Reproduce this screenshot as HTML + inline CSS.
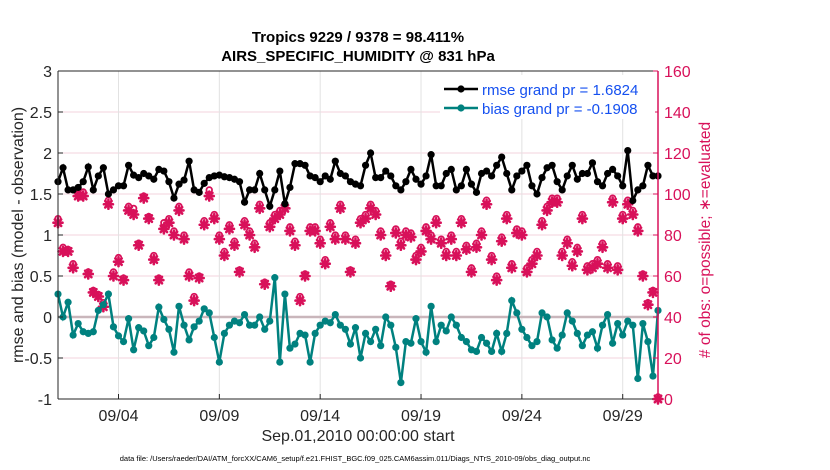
<!DOCTYPE html>
<html><head><meta charset="utf-8"><style>
body{margin:0;background:#fff;}
svg{display:block;font-family:"Liberation Sans",sans-serif;}
</style></head><body>
<svg id="chart" width="830" height="470" viewBox="0 0 830 470" xmlns="http://www.w3.org/2000/svg" style="position:absolute;left:0;top:0">
<rect width="830" height="470" fill="#fff"/>
<g id="grid"></g><g id="marks"></g><g id="axes"></g>
</svg>
<script>
const xTickLabels=["09/04","09/09","09/14","09/19","09/24","09/29"];
const xTickDays=[3,8,13,18,23,28];
const leftTicks=[-1,-0.5,0,0.5,1,1.5,2,2.5,3];
const rightTicks=[0,20,40,60,80,100,120,140,160];
const rmse=[1.65,1.82,1.55,1.55,1.58,1.65,1.83,1.55,1.72,1.82,
1.5,1.55,1.6,1.6,1.85,1.73,1.7,1.75,1.72,1.68,
1.8,1.78,1.65,1.45,1.62,1.67,1.9,1.55,1.52,1.63,
1.7,1.72,1.73,1.71,1.7,1.68,1.65,1.4,1.55,1.55,
1.75,1.55,1.35,1.55,1.78,1.38,1.58,1.87,1.87,1.85,
1.72,1.7,1.65,1.72,1.68,1.9,1.75,1.72,1.65,1.62,
1.6,1.85,2.0,1.7,1.7,1.78,1.72,1.6,1.55,1.65,
1.8,1.68,1.62,1.72,1.98,1.6,1.6,1.75,1.8,1.55,
1.6,1.8,1.62,1.52,1.75,1.78,1.72,1.85,1.95,1.75,
1.55,1.72,1.78,1.85,1.6,1.5,1.7,1.82,1.85,1.65,
1.55,1.72,1.85,1.68,1.75,1.75,1.88,1.65,1.6,1.75,
1.8,1.72,1.6,2.03,1.42,1.55,1.6,1.85,1.72,1.72];
const bias=[0.28,0.0,0.18,-0.22,-0.08,-0.18,-0.2,-0.18,0.08,0.15,
0.28,-0.12,-0.23,-0.3,-0.02,-0.4,-0.13,-0.17,-0.35,-0.25,
0.12,-0.03,-0.15,-0.43,0.13,-0.1,-0.28,-0.12,-0.05,0.1,
0.05,-0.25,-0.55,-0.2,-0.1,-0.05,-0.07,0.03,-0.1,-0.1,
0.0,-0.15,-0.05,0.48,-0.55,0.28,-0.38,-0.33,-0.2,-0.22,
-0.55,-0.2,-0.1,-0.05,-0.07,0.03,-0.1,-0.15,-0.33,-0.13,
-0.5,-0.2,-0.3,-0.15,-0.35,0.0,-0.1,-0.37,-0.8,-0.3,
-0.32,-0.02,-0.3,-0.43,0.13,-0.3,-0.1,-0.17,0.0,-0.1,
-0.25,-0.3,-0.4,-0.42,-0.25,-0.32,-0.42,-0.2,-0.42,-0.2,
0.2,0.05,-0.15,-0.25,-0.35,-0.3,0.05,0.0,-0.28,-0.38,
-0.22,0.05,-0.05,-0.2,-0.35,-0.22,-0.18,-0.38,-0.1,0.03,
-0.32,-0.08,-0.22,-0.05,-0.1,-0.75,-0.08,-0.3,-0.72,0.08];
const evaluated=[86,72,72,64,99,99,61,52,50,45,
95,60,67,58,92,90,75,98,88,68,
58,83,86,80,92,78,60,48,59,85,
99,88,78,70,83,75,62,85,80,74,
93,56,84,88,90,93,82,75,48,60,
82,82,76,66,84,78,93,78,62,76,
86,88,93,90,80,70,55,81,75,80,
79,68,72,82,78,86,76,70,78,70,
86,73,62,74,80,95,68,58,77,88,
64,81,80,62,66,70,85,92,96,96,
70,76,65,72,88,63,64,66,74,64,
96,63,88,95,90,82,60,46,52,0];
const possible=[87,73,72,65,99,100,61,52,50,46,
96,61,68,58,93,92,75,98,88,69,
58,85,87,81,93,79,61,49,59,86,
101,89,79,71,84,76,62,86,81,75,
94,56,85,89,91,94,83,76,49,60,
83,83,77,67,85,79,94,79,62,77,
87,89,94,91,81,71,55,82,76,81,
80,69,73,83,79,87,77,71,79,71,
87,74,63,75,81,96,69,59,78,89,
65,82,81,63,67,71,86,93,97,97,
71,77,66,73,89,64,65,67,75,65,
97,64,89,96,91,83,60,46,52,0];
</script>
<script>
const NS="http://www.w3.org/2000/svg";
const L=58,R=658,T=71,B=399;
const tMax=29.75;
function xs(t){return L+(t/tMax)*(R-L);}
function yl(v){return B-(v+1)/4*(B-T);}
function yr(v){return B-v/160*(B-T);}
function tOf(i,len){return i*tMax/(len-1);}
function mk(tag,attrs,parent){const e=document.createElementNS(NS,tag);for(const k in attrs)e.setAttribute(k,attrs[k]);parent.appendChild(e);return e;}
const grid=document.getElementById('grid'),marks=document.getElementById('marks'),axes=document.getElementById('axes');
leftTicks.forEach(v=>{const g=mk('line',{x1:L,x2:R,y1:yl(v),y2:yl(v),stroke:'#f3d3de','stroke-width':1},grid);

});
xTickDays.forEach(d=>{const g=mk('line',{x1:xs(d),x2:xs(d),y1:T,y2:B,stroke:'#e2e2e2','stroke-width':1},grid);

});
const z=mk('line',{x1:L,x2:R,y1:yl(0),y2:yl(0),stroke:'#c9b6bb','stroke-width':2.5},marks);


const ne=evaluated.length;
const OC='#d8115a';
for(let i=0;i<ne;i++){const x=xs(tOf(i,ne));
const y=yr(evaluated[i]);
const g=mk('g',{stroke:OC,'stroke-width':2.6,'stroke-linecap':'round'},marks);


mk('line',{x1:x-4.5,x2:x+4.5,y1:y,y2:y},g);
mk('line',{x1:x,x2:x,y1:y-4.5,y2:y+4.5},g);
mk('line',{x1:x-3.2,x2:x+3.2,y1:y-3.2,y2:y+3.2},g);
mk('line',{x1:x-3.2,x2:x+3.2,y1:y+3.2,y2:y-3.2},g);
const c=mk('circle',{cx:x,cy:yr(possible[i])-2,r:2.8,fill:'none',stroke:OC,'stroke-width':1.8},marks);

}
function series(arr,color,name){
const pts=arr.map((v,i)=>xs(tOf(i,arr.length)).toFixed(1)+','+yl(v).toFixed(1)).join(' ');
const p=mk('polyline',{points:pts,fill:'none',stroke:color,'stroke-width':2.5},marks);


arr.forEach((v,i)=>{const c=mk('circle',{cx:xs(tOf(i,arr.length)),cy:yl(v),r:3.6,fill:color},marks);

});}
series(rmse,'#000','rmse');
series(bias,'#00817f','bias');
mk('line',{x1:L,x2:R,y1:T,y2:T,stroke:'#262626','stroke-width':1},axes);
mk('line',{x1:L,x2:R,y1:B,y2:B,stroke:'#262626','stroke-width':1},axes);
mk('line',{x1:L,x2:L,y1:T,y2:B,stroke:'#262626','stroke-width':1},axes);
mk('line',{x1:R,x2:R,y1:T,y2:B,stroke:OC,'stroke-width':1.5},axes);
leftTicks.forEach(v=>{mk('line',{x1:L,x2:L+5,y1:yl(v),y2:yl(v),stroke:'#262626'},axes);
const t=mk('text',{x:L-6,y:yl(v)+6,'text-anchor':'end','font-size':16,fill:'#262626'},axes);t.textContent=String(v);

});
rightTicks.forEach(v=>{mk('line',{x1:R-5,x2:R,y1:yr(v),y2:yr(v),stroke:OC},axes);
const t=mk('text',{x:R+6,y:yr(v)+6,'font-size':16,fill:OC},axes);t.textContent=String(v);

});
xTickDays.forEach((d,i)=>{mk('line',{x1:xs(d),x2:xs(d),y1:B,y2:B-5,stroke:'#262626'},axes);
const t=mk('text',{x:xs(d),y:B+22,'text-anchor':'middle','font-size':16,fill:'#262626'},axes);t.textContent=xTickLabels[i];

});
</script>
<svg style="position:absolute;left:0;top:0" width="830" height="470">
<text x="358" y="42" text-anchor="middle" font-size="15" font-weight="bold" fill="#000" font-family="Liberation Sans">Tropics 9229 / 9378 = 98.411%</text>
<text x="358" y="61" text-anchor="middle" font-size="15" font-weight="bold" fill="#000" font-family="Liberation Sans">AIRS_SPECIFIC_HUMIDITY @ 831 hPa</text>
<text x="358" y="441" text-anchor="middle" font-size="16" fill="#262626" font-family="Liberation Sans">Sep.01,2010 00:00:00 start</text>
<text transform="translate(23,235) rotate(-90)" text-anchor="middle" font-size="16" fill="#262626" font-family="Liberation Sans">rmse and bias (model - observation)</text>
<text transform="translate(710,240) rotate(-90)" text-anchor="middle" font-size="15.5" fill="#d8115a" font-family="Liberation Sans"># of obs: o=possible; ∗=evaluated</text>
<text x="355" y="461" text-anchor="middle" font-size="7.5" fill="#000" font-family="Liberation Sans">data file: /Users/raeder/DAI/ATM_forcXX/CAM6_setup/f.e21.FHIST_BGC.f09_025.CAM6assim.011/Diags_NTrS_2010-09/obs_diag_output.nc</text>
<g>
<rect x="440" y="75" width="215" height="44" fill="#fff"/>
<line x1="444" y1="89" x2="478" y2="89" stroke="#000" stroke-width="2.5"/><circle cx="461" cy="89" r="3.6" fill="#000"/>
<text x="482" y="95" font-size="15" fill="#1550f0" font-family="Liberation Sans">rmse grand pr = 1.6824</text>
<line x1="444" y1="108" x2="478" y2="108" stroke="#00817f" stroke-width="2.5"/><circle cx="461" cy="108" r="3.6" fill="#00817f"/>
<text x="482" y="114" font-size="15" fill="#1550f0" font-family="Liberation Sans">bias grand pr = -0.1908</text>
</g>
</svg>
</body></html>
